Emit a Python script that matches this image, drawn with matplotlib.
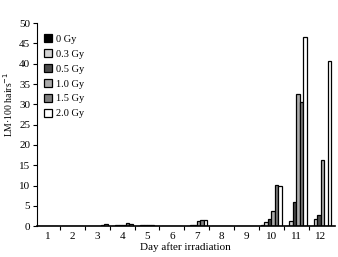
import matplotlib
matplotlib.use("Agg")
import matplotlib.pyplot as plt
import numpy as np

plt.rcParams["font.family"] = ["Liberation Serif", "DejaVu Serif"]

days = [1, 2, 3, 4, 5, 6, 7, 8, 9, 10, 11, 12]
doses = ["0 Gy", "0.3 Gy", "0.5 Gy", "1.0 Gy", "1.5 Gy", "2.0 Gy"]
colors = ["#000000", "#d4d4d4", "#4a4a4a", "#ababab", "#7e7e7e", "#ffffff"]

lm_0gy = [0.1, 0.1, 0.1, 0.1, 0.1, 0.1, 0.1, 0.1, 0.1, 0.2, 0.1, 0.1]
lm_03gy = [0.1, 0.1, 0.1, 0.2, 0.2, 0.1, 0.2, 0.1, 0.1, 1.0, 1.2, 1.8]
lm_05gy = [0.1, 0.1, 0.1, 0.3, 0.4, 0.1, 0.4, 0.1, 0.1, 1.8, 6.0, 2.7]
lm_10gy = [0.1, 0.1, 0.1, 0.3, 0.4, 0.1, 1.2, 0.1, 0.1, 3.7, 32.5, 16.3]
lm_15gy = [0.1, 0.1, 0.2, 0.7, 0.2, 0.1, 1.4, 0.1, 0.1, 10.2, 30.5, 0.1]
lm_20gy = [0.1, 0.1, 0.5, 0.6, 0.1, 0.1, 1.4, 0.1, 0.1, 10.0, 46.5, 40.7]
series = [lm_0gy, lm_03gy, lm_05gy, lm_10gy, lm_15gy, lm_20gy]

fig, ax = plt.subplots(figsize=(3.38, 2.57), dpi=100)
fig.subplots_adjust(left=0.108, right=0.99, top=0.91, bottom=0.12)

x = np.arange(len(days)) + 1
width = 0.14
for i, (vals, label, c) in enumerate(zip(series, doses, colors)):
    ax.bar(x + (i - 2.5) * width, vals, width, color=c, edgecolor="black",
           linewidth=0.9, label=label)

ax.set_xlim(0.55, 12.55)
ax.set_ylim(0, 50)
ax.set_yticks(range(0, 51, 5))
ax.set_xticks(x)
ax.set_xticklabels(days)
ax.set_xticks(np.arange(1.5, 12.5, 1), minor=True)
ax.tick_params(axis="x", which="major", length=0, labelsize=8, pad=4)
ax.tick_params(axis="x", which="minor", length=3, width=0.8, direction="out")
ax.tick_params(axis="y", length=3, width=0.8, labelsize=8, pad=1.5)
ax.spines["top"].set_visible(False)
ax.spines["right"].set_visible(False)
ax.spines["left"].set_linewidth(0.8)
ax.spines["bottom"].set_linewidth(1.2)

ax.set_xlabel("Day after irradiation", fontsize=8, labelpad=1)
ax.set_ylabel("LM·100 hairs$^{-1}$", fontsize=7)
ax.yaxis.set_label_coords(-0.072, 0.6)

ax.legend(loc="upper left", bbox_to_anchor=(0.0, 0.98), frameon=False,
          fontsize=7.5, handlelength=0.8, handleheight=0.8, handletextpad=0.4,
          labelspacing=0.5, borderaxespad=0.3)

fig.savefig("out.png", dpi=100)
